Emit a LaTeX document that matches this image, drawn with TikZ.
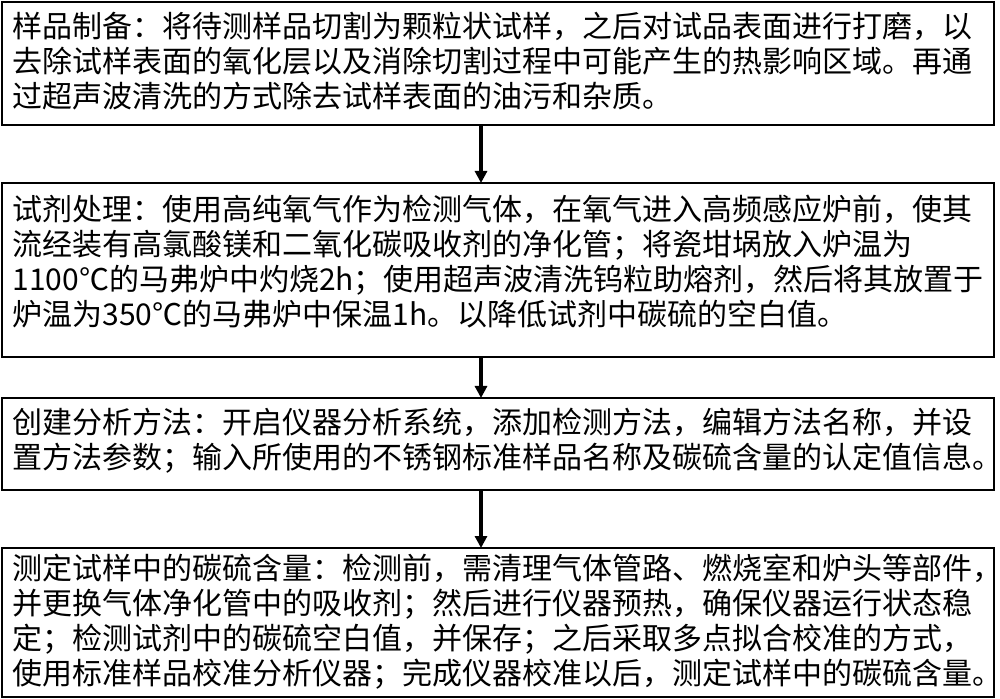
\documentclass[tikz,border=0pt]{standalone}
\usepackage{fontspec}
\setmainfont{Noto Sans CJK SC}
\usetikzlibrary{arrows.meta}
\begin{document}
\begin{tikzpicture}[x=0.5pt,y=-0.5pt,
  box/.style={draw,line width=1pt,inner sep=0pt},
  txt/.style={anchor=north west,align=left,inner sep=0pt,font=\fontsize{15pt}{17.5pt}\selectfont},
  arr/.style={line width=2pt,-{Triangle[length=6pt,width=6pt]}}]
\useasboundingbox (0,0) rectangle (1000,699);
\draw[box] (2,2) rectangle (994,125); \coordinate (b1) at (481,125);
\node[txt] (t1) at (12,12) {样品制备：将待测样品切割为颗粒状试样，之后对试品表面进行打磨，以\\去除试样表面的氧化层以及消除切割过程中可能产生的热影响区域。再通\\过超声波清洗的方式除去试样表面的油污和杂质。};
\draw[box] (2,183) rectangle (994,357); \coordinate (a2) at (481,183); \coordinate (b2) at (481,357);
\node[txt] (t2) at (12,195) {试剂处理：使用高纯氧气作为检测气体，在氧气进入高频感应炉前，使其\\流经装有高氯酸镁和二氧化碳吸收剂的净化管；将瓷坩埚放入炉温为\\1100℃的马弗炉中灼烧2h；使用超声波清洗钨粒助熔剂，然后将其放置于\\炉温为350℃的马弗炉中保温1h。以降低试剂中碳硫的空白值。};
\draw[box] (2,398) rectangle (994,490); \coordinate (a3) at (481,398); \coordinate (b3) at (481,490);
\node[txt] (t3) at (12,408) {创建分析方法：开启仪器分析系统，添加检测方法，编辑方法名称，并设\\置方法参数；输入所使用的不锈钢标准样品名称及碳硫含量的认定值信息。};
\draw[box] (2,548) rectangle (994,697); \coordinate (a4) at (481,548);
\node[txt] (t4) at (12,554) {测定试样中的碳硫含量：检测前，需清理气体管路、燃烧室和炉头等部件，\\并更换气体净化管中的吸收剂；然后进行仪器预热，确保仪器运行状态稳\\定；检测试剂中的碳硫空白值，并保存；之后采取多点拟合校准的方式，\\使用标准样品校准分析仪器；完成仪器校准以后，测定试样中的碳硫含量。};
\draw[arr] (b1) -- (a2);
\draw[arr] (b2) -- (a3);
\draw[arr] (b3) -- (a4);
\end{tikzpicture}
\end{document}
